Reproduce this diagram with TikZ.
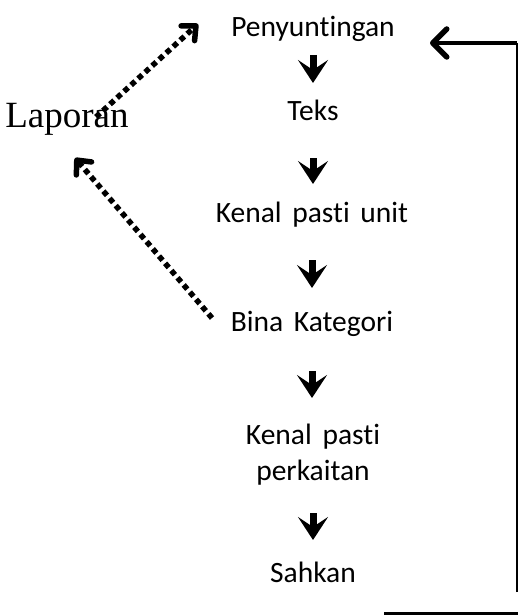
\documentclass[tikz,border=0pt]{standalone}
\usepackage{fontspec}
\setmainfont{Carlito}[Ligatures=CommonOff,WordSpace=1.6]
\newfontfamily\timesfont{Liberation Serif}
\usetikzlibrary{arrows.meta,calc}
\begin{document}
\begin{tikzpicture}[x=1pt,y=-1pt,
  lbl/.style={font=\fontsize{29.5}{36}\selectfont, inner sep=0pt, anchor=base, align=center},
  flow/.style={line width=7pt, -{Stealth[length=23pt,width=30pt,inset=10pt]}},
  dots/.style={line width=5.5pt, dash pattern=on 5.5pt off 4pt, -{Straight Barb[length=11pt,width=20pt,line width=5.5pt,round]}},
  loopline/.style={line width=2pt},
  feedback/.style={line width=4.5pt, -{Straight Barb[length=14pt,width=28pt,line width=5.5pt,round]}}]
\useasboundingbox (0,0) rectangle (518,615);
\node[lbl] (pen) at (313,37) {Penyuntingan};
\node[lbl] (teks) at (313,121) {Teks};
\node[lbl] (unit) at (312,222) {Kenal pasti unit};
\node[lbl] (bina) at (312,331) {Bina Kategori};
\node[lbl] (kait) at (313,480) {Kenal pasti\\perkaitan};
\node[lbl] (sah) at (313,582) {Sahkan};
\node[font=\timesfont\fontsize{37}{40}\selectfont, inner sep=0pt, anchor=base] (lap) at (67,128) {Laporan};
% down arrows
\draw[flow] ([yshift=-18pt]pen.base) -- ([yshift=-46pt]pen.base);
\draw[flow] ([yshift=-37pt]teks.base) -- ([yshift=-63pt]teks.base);
\draw[flow] ([yshift=-38pt]unit.base) -- ([yshift=-66pt]unit.base);
\draw[flow] ([yshift=-40pt]bina.base) -- ([yshift=-67pt]bina.base);
\draw[flow] ([yshift=69pt]sah.base) -- ([yshift=42pt]sah.base);
% dotted arrows
\coordinate (d1s) at (96,117);
\coordinate (d1e) at (198,24);
\coordinate (d2s) at (212,318);
\coordinate (d2e) at (75,158);
\draw[dots] (d1s) -- (d1e);
\draw[dots] (d2s) -- (d2e);
% feedback loop
\coordinate (c0) at (517,592);
\coordinate (c1) at (517,43);
\coordinate (tipA) at (430,43);
\draw[loopline] (c0) -- (c1);
\draw[feedback] (c1) -- (tipA);
\coordinate (b1) at (384,613.5);
\coordinate (b2) at (518,613.5);
\draw[line width=4pt] (b1) -- (b2);
\end{tikzpicture}
\end{document}
